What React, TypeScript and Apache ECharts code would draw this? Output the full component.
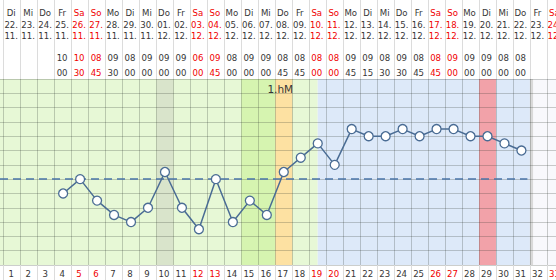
import React, { useEffect, useRef } from "react";
import * as echarts from "echarts";

// ---- data ----
const days = [1, 2, 3, 4, 5, 6, 7, 8, 9, 10, 11, 12, 13, 14, 15, 16, 17, 18, 19, 20, 21, 22, 23, 24, 25, 26, 27, 28, 29, 30, 31, 32, 33];
const weekdays = ["Di", "Mi", "Do", "Fr", "Sa", "So", "Mo", "Di", "Mi", "Do", "Fr", "Sa", "So", "Mo", "Di", "Mi", "Do", "Fr", "Sa", "So", "Mo", "Di", "Mi", "Do", "Fr", "Sa", "So", "Mo", "Di", "Mi", "Do", "Fr", "Sa"];
const dates = ["22.", "23.", "24.", "25.", "26.", "27.", "28.", "29.", "30.", "01.", "02.", "03.", "04.", "05.", "06.", "07.", "08.", "09.", "10.", "11.", "12.", "13.", "14.", "15.", "16.", "17.", "18.", "19.", "20.", "21.", "22.", "23.", "24."];
const months = ["11.", "11.", "11.", "11.", "11.", "11.", "11.", "11.", "11.", "12.", "12.", "12.", "12.", "12.", "12.", "12.", "12.", "12.", "12.", "12.", "12.", "12.", "12.", "12.", "12.", "12.", "12.", "12.", "12.", "12.", "12.", "12.", "12."];
const hours = ["", "", "", "10", "10", "08", "09", "08", "09", "09", "09", "06", "09", "08", "09", "09", "08", "08", "08", "08", "09", "09", "08", "09", "08", "08", "09", "09", "09", "08", "08", "", ""];
const minutes = ["", "", "", "00", "30", "45", "30", "00", "00", "00", "00", "00", "45", "00", "00", "00", "45", "45", "00", "00", "45", "15", "30", "30", "45", "45", "00", "00", "00", "00", "00", "", ""];
const tempDays = [4, 5, 6, 7, 8, 9, 10, 11, 12, 13, 14, 15, 16, 17, 18, 19, 20, 21, 22, 23, 24, 25, 26, 27, 28, 29, 30, 31];
const temps = [36.4, 36.5, 36.35, 36.25, 36.2, 36.3, 36.55, 36.3, 36.15, 36.5, 36.2, 36.35, 36.25, 36.55, 36.65, 36.75, 36.6, 36.85, 36.8, 36.8, 36.85, 36.8, 36.85, 36.85, 36.8, 36.8, 36.75, 36.7];
const coverline = 36.5;
const coverlineEnd = 31.35;
const peakLabel = "1.hM";
const yMin = 35.9;
const yMax = 37.2;
const yStep = 0.1;
// phases (day ranges) for background bands
const phaseKinds = ["fertileLow", "mucus", "fertileHigh", "peak", "luteal", "bleed", "end", "future"];
const phaseFrom = [0, 9.5, 14.5, 16.5, 19, 28.5, 31.5, 31.7];
const phaseTo = [19, 10.5, 16.5, 17.5, 31.5, 29.5, 31.7, 40];

// ---- layout / style ----
const COL = 16.975;
const LEFT_PAD = 3.7;
const W = 556;
const H = 280;
const XMIN = 0.5 - LEFT_PAD / COL;
const XMAX = XMIN + W / COL;
const PLOT_TOP = 79;
const PLOT_BOTTOM = 265;
const FONT = "Tahoma, 'DejaVu Sans Condensed', 'Liberation Sans', sans-serif";
const TXT = "#363636";
const RED = "#f00000";
const LINE = "#4a6c94";
const phaseColors: Record<string, string> = {
  fertileLow: "#e7f8d6",
  mucus: "#d9e4cb",
  fertileHigh: "#d6f4b0",
  peak: "#fde1a2",
  luteal: "#dde9f9",
  bleed: "#f2a2a9",
  end: "#d9d9d9",
  future: "#f8f8fc",
};

const isWeekend = (d: number) => weekdays[d - 1] === "Sa" || weekdays[d - 1] === "So";
const rich = {
  n: { color: TXT, fontSize: 9.5, fontFamily: FONT },
  r: { color: RED, fontSize: 9.5, fontFamily: FONT },
};
const boundaries = [0.5, ...days.map((d) => d + 0.5)];

function rowAxis(margin: number, list: string[], gridIndex = 0, position = "top") {
  return {
    type: "value",
    gridIndex,
    position,
    min: XMIN,
    max: XMAX,
    axisLine: { show: false },
    axisTick: { show: false },
    splitLine: { show: false },
    axisLabel: {
      show: true,
      customValues: days.filter((d) => list[d - 1] !== ""),
      margin,
      align: "center",
      verticalAlign: "middle",
      padding: [0, 2, 0, 0],
      formatter: (v: number) => {
        const d = Math.round(v);
        const t = list[d - 1];
        if (!t) return "";
        return `{${isWeekend(d) ? "r" : "n"}|${t}}`;
      },
      rich,
    },
  };
}

function hiddenX(gridIndex: number) {
  return {
    type: "value",
    gridIndex,
    min: XMIN,
    max: XMAX,
    axisLine: { show: false },
    axisTick: { show: false },
    axisLabel: { show: false },
    splitLine: { show: false },
  };
}
function hiddenY(gridIndex: number) {
  return {
    type: "value",
    gridIndex,
    min: 0,
    max: 1,
    axisLine: { show: false },
    axisTick: { show: false },
    axisLabel: { show: false },
    splitLine: { show: false },
  };
}

function separators(xAxisIndex: number, yAxisIndex: number, color: string, z: number) {
  return {
    type: "line",
    xAxisIndex,
    yAxisIndex,
    data: [],
    silent: true,
    markLine: {
      silent: true,
      z,
      symbol: ["none", "none"],
      label: { show: false },
      emphasis: { disabled: true },
      lineStyle: { color, width: 1, type: "solid" },
      data: boundaries.map((b) => ({ xAxis: b })),
    },
  };
}

export default function App() {
  const ref = useRef<HTMLDivElement>(null);
  useEffect(() => {
    if (!ref.current) return;
    const chart = echarts.init(ref.current, undefined, { renderer: "svg" });
    const bands = phaseKinds.map((k, i) => {
      const first: any = {
        xAxis: Math.max(phaseFrom[i], XMIN),
        itemStyle: { color: phaseColors[k] },
      };
      if (k === "peak") {
        first.label = {
          show: true,
          position: "insideTop",
          distance: 4,
          offset: [-3.5, 0],
          formatter: peakLabel,
          color: TXT,
          fontSize: 10.5,
          fontFamily: "'DejaVu Sans', sans-serif",
        };
      }
      return [first, { xAxis: Math.min(phaseTo[i], XMAX) }];
    });
    const option: any = {
      animation: false,
      backgroundColor: "#ffffff",
      grid: [
        { left: 0, right: 0, top: PLOT_TOP, height: PLOT_BOTTOM - PLOT_TOP, containLabel: false, outerBoundsMode: "none" },
        { left: 0, right: 0, top: 0, height: PLOT_TOP, containLabel: false, outerBoundsMode: "none" },
        { left: 0, right: 0, top: PLOT_BOTTOM, height: H - PLOT_BOTTOM, containLabel: false, outerBoundsMode: "none" },
      ],
      xAxis: [
        rowAxis(8.3, days.map((d) => String(d)), 0, "bottom"),
        rowAxis(PLOT_TOP - 12, weekdays),
        rowAxis(PLOT_TOP - 24, dates),
        rowAxis(PLOT_TOP - 35.7, months),
        rowAxis(PLOT_TOP - 57.5, hours),
        rowAxis(PLOT_TOP - 72, minutes),
        hiddenX(1),
        hiddenX(2),
      ],
      yAxis: [
        {
          type: "value",
          gridIndex: 0,
          min: yMin,
          max: yMax,
          interval: yStep,
          z: 2,
          axisLine: { show: false },
          axisTick: { show: false },
          axisLabel: { show: false },
          splitLine: { show: true, lineStyle: { color: "rgba(40,50,40,0.24)", width: 1 } },
        },
        hiddenY(1),
        hiddenY(2),
      ],
      series: [
        {
          type: "line",
          xAxisIndex: 0,
          yAxisIndex: 0,
          data: [],
          silent: true,
          z: 1,
          markArea: {
            silent: true,
            z: 1,
            label: { show: false },
            emphasis: { disabled: true },
            data: bands,
          },
          markLine: {
            silent: true,
            z: 2,
            symbol: ["none", "none"],
            label: { show: false },
            emphasis: { disabled: true },
            lineStyle: { color: "rgba(40,50,40,0.24)", width: 1, type: "solid" },
            data: boundaries.map((b) => ({ xAxis: b })),
          },
        },
        separators(6, 1, "#dcdcdc", 2),
        separators(7, 2, "#dcdcdc", 2),
        {
          type: "line",
          xAxisIndex: 0,
          yAxisIndex: 0,
          z: 4,
          data: tempDays.map((d, i) => [d, temps[i]]),
          symbol: "circle",
          symbolSize: 9,
          showAllSymbol: true,
          lineStyle: { color: LINE, width: 1.5 },
          itemStyle: { color: "#ffffff", borderColor: LINE, borderWidth: 1.3 },
          emphasis: { disabled: true },
          markLine: {
            silent: true,
            z: 3,
            symbol: ["none", "none"],
            label: { show: false },
            emphasis: { disabled: true },
            lineStyle: { color: "#4a74a8", width: 1.5, type: [8, 5] },
            data: [[{ coord: [XMIN, coverline] }, { coord: [coverlineEnd, coverline] }]],
          },
        },
      ],
    };
    chart.setOption(option);
    return () => chart.dispose();
  }, []);
  return (
    <div
      ref={ref}
      style={{ position: "absolute", left: 0, top: 0, width: W, height: H }}
    />
  );
}
